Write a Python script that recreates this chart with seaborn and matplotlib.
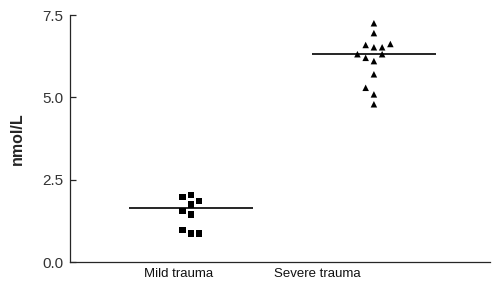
import numpy as np
import pandas as pd
import matplotlib
matplotlib.use('Agg')
import matplotlib.pyplot as plt
import seaborn as sns

# values (nmol/L)
groups = ['Mild trauma', 'Severe trauma']
mild_vals = [1.98, 2.03, 1.85, 1.75, 1.55, 1.45, 0.97, 0.87, 0.87]
mild_slot = [-1, 0, 1, 0, -1, 0, -1, 0, 1]
severe_vals = [7.25, 6.95, 6.59, 6.52, 6.52, 6.62, 6.31, 6.20, 6.31,
               6.10, 5.70, 5.29, 5.09, 4.79]
severe_slot = [0, 0, -1, 0, 1, 2, -2, -1, 1, 0, 0, -1, 0, 0]
line_levels = [1.65, 6.32]   # horizontal bars drawn in the figure
y_ticks = [0.0, 2.5, 5.0, 7.5]

# category centres / label spots (the original labels sit a bit left of the points)
centres = [0, 1]
label_pos = [-0.07, 0.69]
slot_w = 0.045
bar_half = 0.34

df = pd.DataFrame({
    'group': ['Mild trauma'] * len(mild_vals) + ['Severe trauma'] * len(severe_vals),
    'value': mild_vals + severe_vals,
    'slot': mild_slot + severe_slot,
})
df['x'] = df['group'].map(dict(zip(groups, centres))) + df['slot'] * slot_w

sns.set_style('ticks')
plt.rcParams['font.family'] = ['Liberation Sans', 'DejaVu Sans']

fig = plt.figure(figsize=(4.94, 2.87), dpi=100)
ax = fig.add_axes([0.1417, 0.0871, 0.850, 0.8606])

sns.scatterplot(data=df, x='x', y='value', style='group',
                markers={'Mild trauma': 's', 'Severe trauma': '^'},
                color='black', s=22, edgecolor='none', legend=False, ax=ax)

for c, lvl in zip(centres, line_levels):
    ax.hlines(lvl, c - bar_half, c + bar_half, color='black', lw=1.2)

ax.set_xlim(-0.661, 1.634)
ax.set_ylim(0, 7.5)
ax.set_yticks(y_ticks)
ax.set_yticklabels([f'{t:.1f}' for t in y_ticks], fontsize=11, color='#333333')
ax.set_xticks(label_pos)
ax.set_xticklabels(groups, fontsize=9.5, color='#111111')
ax.tick_params(axis='x', length=0, pad=4)
ax.tick_params(axis='y', direction='in', length=4, width=0.9, pad=5)
ax.set_xlabel('')
ax.set_ylabel('nmol/L', fontsize=11.5, fontweight='bold', labelpad=12)

sns.despine(ax=ax)
for sp in ['left', 'bottom']:
    ax.spines[sp].set_linewidth(0.9)

fig.savefig('out.png', dpi=100)
